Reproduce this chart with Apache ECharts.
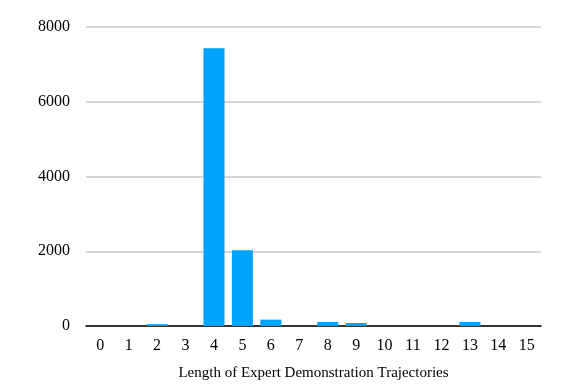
<!DOCTYPE html>
<html>
<head>
<meta charset="utf-8">
<script src="https://cdn.jsdelivr.net/npm/echarts@6/dist/echarts.min.js"></script>
<style>
  html, body { margin: 0; padding: 0; background: #fff; }
  #main { width: 581px; height: 388px; }
</style>
</head>
<body>
<div id="main"></div>
<script>
// trajectory lengths and how many demos have each
var lengths = ['0', '1', '2', '3', '4', '5', '6', '7', '8', '9', '10', '11', '12', '13', '14', '15'];
var counts = [0, 0, 50, 0, 7430, 2030, 170, 0, 110, 80, 0, 0, 0, 110, 0, 0];
var yTicks = [0, 2000, 4000, 6000, 8000];

var chart = echarts.init(document.getElementById('main'));
var font = 'Liberation Serif, Times New Roman, serif';

var option = {
  animation: false,
  grid: { left: 86, right: 40, top: 27, bottom: 62 },
  xAxis: {
    type: 'category',
    data: lengths,
    name: 'Length of Expert Demonstration Trajectories',
    nameLocation: 'middle',
    nameGap: 40,
    nameTextStyle: { fontFamily: font, fontSize: 15, color: '#000' },
    axisLine: { lineStyle: { color: '#000', width: 1.5 } },
    axisTick: { show: false },
    axisLabel: { fontFamily: font, fontSize: 16, color: '#000', margin: 12 }
  },
  yAxis: {
    type: 'value',
    min: yTicks[0],
    max: yTicks[yTicks.length - 1],
    interval: 2000,
    axisLine: { show: false },
    axisTick: { show: false },
    axisLabel: {
      fontFamily: font, fontSize: 16, color: '#000', margin: 16,
      formatter: function (v) { return String(v); }
    },
    splitLine: { lineStyle: { color: '#c8c8c8', width: 1.5 } }
  },
  series: [{
    type: 'bar',
    data: counts,
    barCategoryGap: '26%',
    itemStyle: { color: '#00a3ff' }
  }]
};

chart.setOption(option);
</script>
</body>
</html>
